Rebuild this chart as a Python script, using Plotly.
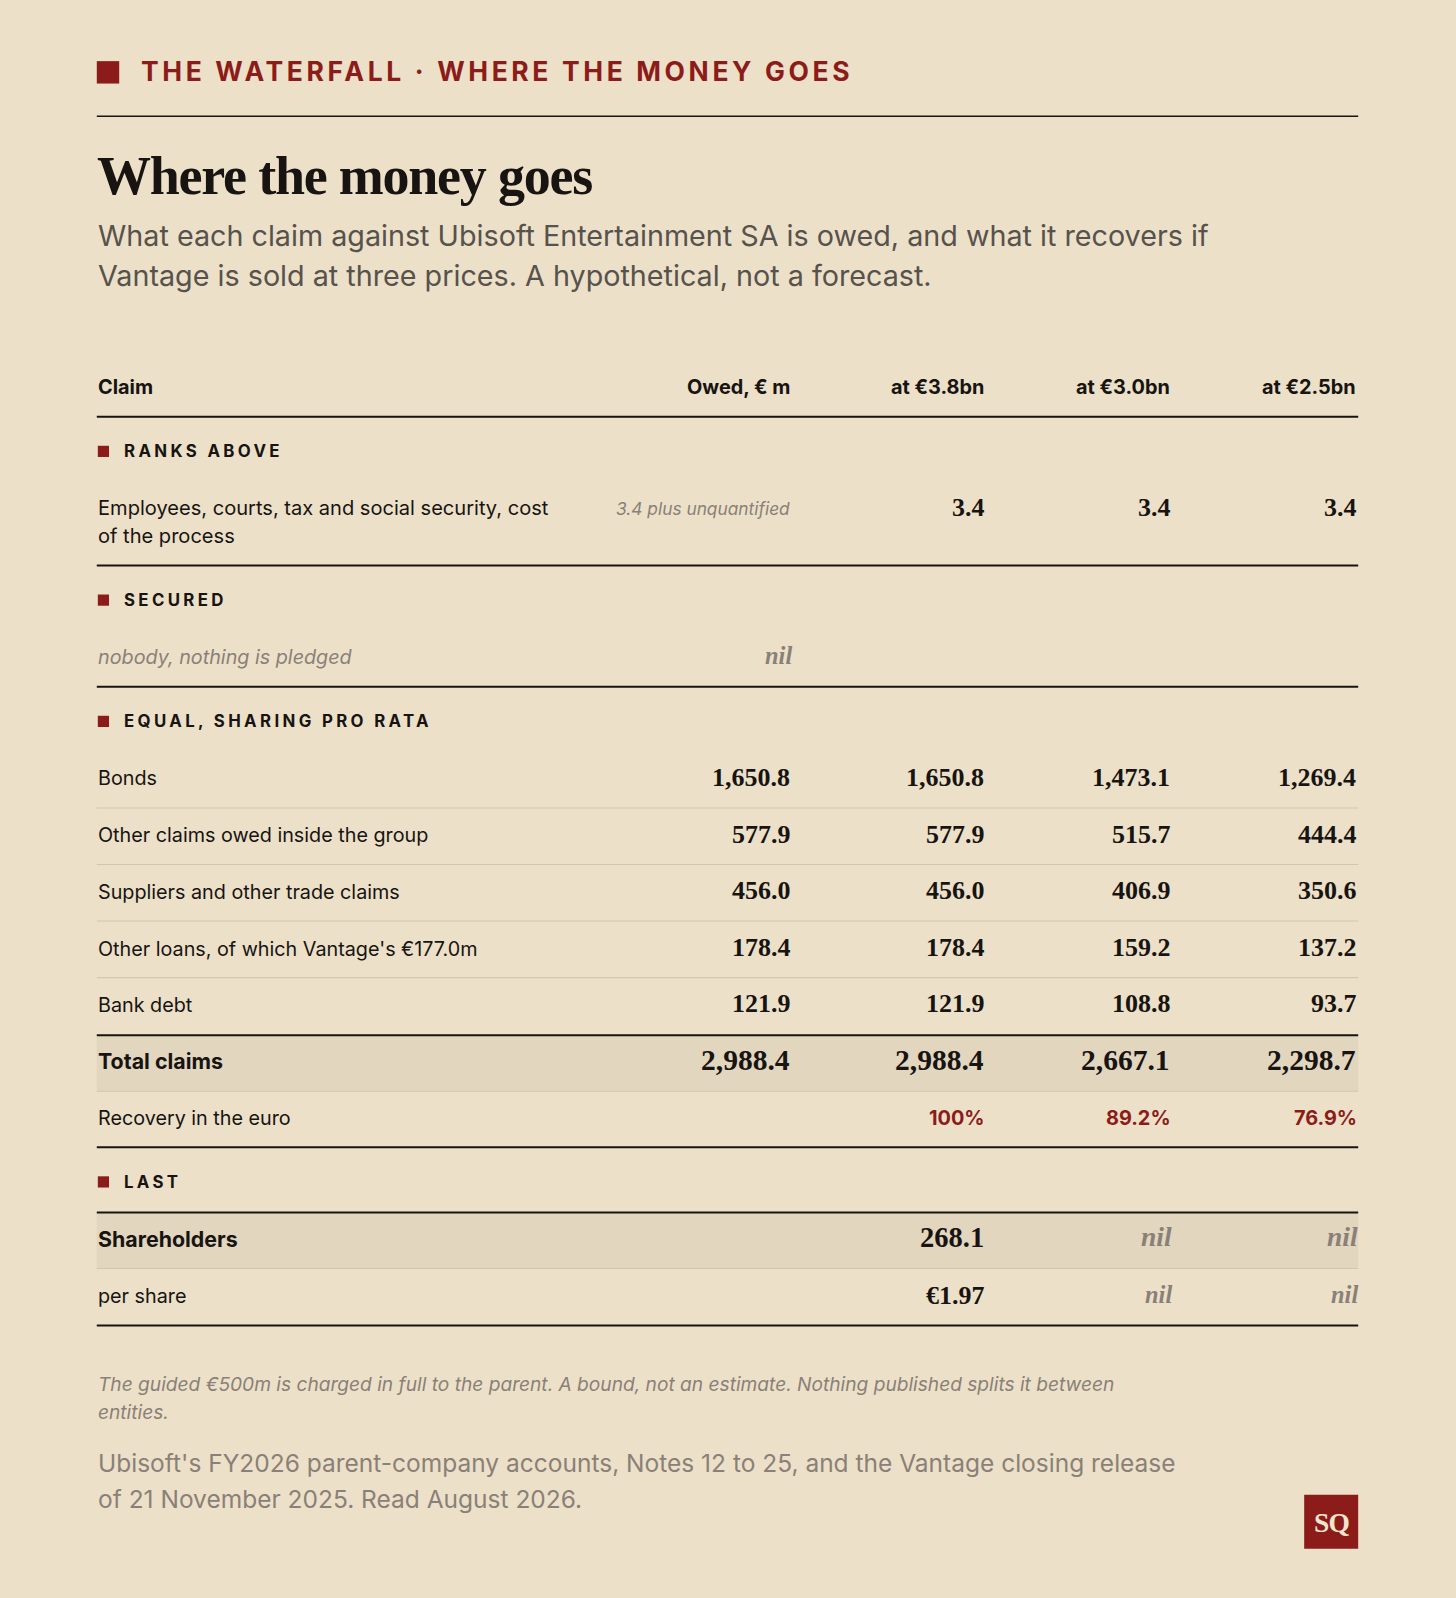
import plotly.graph_objects as go

# ---------------- data ----------------
kicker = "THE WATERFALL · WHERE THE MONEY GOES"
title = "Where the money goes"
subtitle_lines = [
    "What each claim against Ubisoft Entertainment SA is owed, and what it recovers if",
    "Vantage is sold at three prices. A hypothetical, not a forecast.",
]
col_headers = ["Claim", "Owed, € m", "at €3.8bn", "at €3.0bn", "at €2.5bn"]

section_names = ["RANKS ABOVE", "SECURED", "EQUAL, SHARING PRO RATA", "LAST"]

ranks_label_lines = ["Employees, courts, tax and social security, cost", "of the process"]
ranks_owed_note = "3.4 plus unquantified"
ranks_recovery = [3.4, 3.4, 3.4]

secured_label = "nobody, nothing is pledged"
secured_owed = "nil"

equal_claims = [
    "Bonds",
    "Other claims owed inside the group",
    "Suppliers and other trade claims",
    "Other loans, of which Vantage's €177.0m",
    "Bank debt",
]
equal_owed = [1650.8, 577.9, 456.0, 178.4, 121.9]
equal_rec_38 = [1650.8, 577.9, 456.0, 178.4, 121.9]
equal_rec_30 = [1473.1, 515.7, 406.9, 159.2, 108.8]
equal_rec_25 = [1269.4, 444.4, 350.6, 137.2, 93.7]

total_label = "Total claims"
total_owed = 2988.4
total_rec = [2988.4, 2667.1, 2298.7]

recovery_label = "Recovery in the euro"
recovery_pct = [100, 89.2, 76.9]

shareholders_label = "Shareholders"
shareholders_rec = [268.1, None, None]
per_share_label = "per share"
per_share_rec = [1.97, None, None]

footnote_lines = [
    "The guided €500m is charged in full to the parent. A bound, not an estimate. Nothing published splits it between",
    "entities.",
]
source_lines = [
    "Ubisoft's FY2026 parent-company accounts, Notes 12 to 25, and the Vantage closing release",
    "of 21 November 2025. Read August 2026.",
]
logo_text = "SQ"

# ---------------- style / layout ----------------
W, H = 1456, 1598
S = 1456 / 1429          # design units -> pixels
VW, VH = W / S, H / S    # axis ranges in design units
LEFT, RIGHT = 95, 1333
COLS = [777, 968, 1150, 1333]  # right edges: owed, 3.8, 3.0, 2.5

BG = "#ece0c8"
SHADE = "#e2d6bf"
RED = "#8b1c1a"
INK = "#171412"
GREY = "#8a8078"
SUBGREY = "#57524c"
LIGHT_RULE = "#d3c6af"
SANS = "Inter"
SERIF = "Liberation Serif"

BODY = 19.4
NUM = 25.5

annotations = []
shapes = []


def txt(x, y, s, size, color=INK, family=SANS, anchor="left", weight=400, italic=False, spacing=None):
    if spacing is not None:
        s = f'<span style="letter-spacing:{spacing * S:.2f}px">{s}</span>'
    annotations.append(dict(
        x=x, y=y, xref="x", yref="y", text=s, showarrow=False,
        xanchor=anchor, yanchor="middle", align=anchor,
        font=dict(family=family, size=size * S, color=color, weight=weight,
                  style="italic" if italic else "normal"),
    ))


def hline(y, width=2, color=INK):
    shapes.append(dict(type="line", xref="x", yref="y", x0=LEFT, x1=RIGHT, y0=y, y1=y,
                       line=dict(color=color, width=width * S), layer="above"))


def rect(x0, y0, x1, y1, color):
    shapes.append(dict(type="rect", xref="x", yref="y", x0=x0, x1=x1, y0=y0, y1=y1,
                       fillcolor=color, line=dict(width=0), layer="below"))


def num(v):
    return f"{v:,.1f}"


def pct(v):
    return f"{v:g}%" if float(v).is_integer() else f"{v:.1f}%"


def section(y, name):
    rect(LEFT + 1, y - 5.5, LEFT + 12, y + 5.5, RED)
    txt(LEFT + 25, y, name, 16.5, INK, SANS, weight=700, spacing=3.3)


# kicker
rect(LEFT, 60, LEFT + 22, 82, RED)
txt(136, 70, kicker, 26, RED, SANS, weight=700, spacing=3.55)
hline(114, 1.5)

# title + subtitle
txt(LEFT - 2, 173, title, 53, INK, SERIF, weight=700, spacing=-1.2)
for i, line in enumerate(subtitle_lines):
    txt(LEFT - 1, 231 + 39 * i, line, 28.2, SUBGREY, SANS)

# header
for i, h in enumerate(col_headers):
    if i == 0:
        txt(LEFT - 1, 380, h, 19.5, INK, SANS, weight=700)
    else:
        txt(COLS[i - 1], 380, h, 19.5, INK, SANS, anchor="right", weight=700)
hline(409, 2)

# ranks above
section(443, section_names[0])
for i, line in enumerate(ranks_label_lines):
    txt(LEFT - 1, 499 + 27 * i, line, 19.7, INK, SANS)
txt(COLS[0], 499, ranks_owed_note, 17, GREY, SANS, anchor="right", italic=True)
for j, v in enumerate(ranks_recovery):
    txt(COLS[j + 1], 498, num(v), NUM, INK, SERIF, anchor="right", weight=700)
hline(555, 2)

# secured
section(589, section_names[1])
txt(LEFT - 1, 645, secured_label, BODY, GREY, SANS, italic=True)
txt(COLS[0] + 2, 643, secured_owed, 24, GREY, SERIF, anchor="right", weight=700, italic=True)
hline(674, 2)

# equal, sharing pro rata
section(708, section_names[2])
row_y = [764, 820, 875, 931, 986]
for k, name in enumerate(equal_claims):
    y = row_y[k]
    txt(LEFT - 1, y, name, BODY, INK, SANS)
    vals = [equal_owed[k], equal_rec_38[k], equal_rec_30[k], equal_rec_25[k]]
    for j, v in enumerate(vals):
        txt(COLS[j], y - 1, num(v), NUM, INK, SERIF, anchor="right", weight=700)
    if k < len(equal_claims) - 1:
        hline((row_y[k] + row_y[k + 1]) / 2 + 1, 1, LIGHT_RULE)

# total row
rect(LEFT, 1016, RIGHT, 1071, SHADE)
hline(1016, 2)
txt(LEFT - 1, 1041, total_label, 21, INK, SANS, weight=700)
for j, v in enumerate([total_owed] + total_rec):
    txt(COLS[j], 1040, num(v), 29, INK, SERIF, anchor="right", weight=700)
hline(1071, 1, LIGHT_RULE)

# recovery
txt(LEFT - 1, 1097, recovery_label, BODY, INK, SANS)
for j, v in enumerate(recovery_pct):
    txt(COLS[j + 1] + 1, 1097, pct(v), 19.5, RED, SANS, anchor="right", weight=700)
hline(1126, 2)

# last
section(1160, section_names[3])
rect(LEFT, 1190, RIGHT, 1245, SHADE)
hline(1190, 2)
txt(LEFT - 1, 1216, shareholders_label, 21, INK, SANS, weight=700)
for j, v in enumerate(shareholders_rec):
    if v is None:
        txt(COLS[j + 1] + 2, 1214, "nil", 27, GREY, SERIF, anchor="right", weight=700, italic=True)
    else:
        txt(COLS[j + 1], 1215, num(v), 28, INK, SERIF, anchor="right", weight=700)
hline(1245, 1, LIGHT_RULE)
txt(LEFT - 1, 1272, per_share_label, BODY, INK, SANS)
for j, v in enumerate(per_share_rec):
    if v is None:
        txt(COLS[j + 1] + 2, 1270, "nil", 24, GREY, SERIF, anchor="right", weight=700, italic=True)
    else:
        txt(COLS[j + 1], 1271, f"€{v:.2f}", NUM, INK, SERIF, anchor="right", weight=700)
hline(1301, 2)

# footnote & source
for i, line in enumerate(footnote_lines):
    txt(LEFT - 1, 1358 + 28 * i, line, 18.8, GREY, SANS, italic=True)
for i, line in enumerate(source_lines):
    txt(LEFT - 1, 1436 + 35 * i, line, 24.05, GREY, SANS)

# logo
rect(1280, 1467, RIGHT, 1520, RED)
txt(1306.5, 1494, logo_text, 27, "#f1e5cd", SERIF, anchor="center", weight=700, spacing=-0.8)

fig = go.Figure()
fig.update_layout(
    width=W, height=H,
    margin=dict(l=0, r=0, t=0, b=0),
    paper_bgcolor=BG, plot_bgcolor=BG,
    xaxis=dict(range=[0, VW], visible=False, fixedrange=True),
    yaxis=dict(range=[VH, 0], visible=False, fixedrange=True),
    annotations=annotations,
    shapes=shapes,
    showlegend=False,
)
fig.write_html(
    "out.html",
    config={"displayModeBar": False},
    post_script="document.body.style.margin='0';document.body.style.background='%s';" % BG,
)
